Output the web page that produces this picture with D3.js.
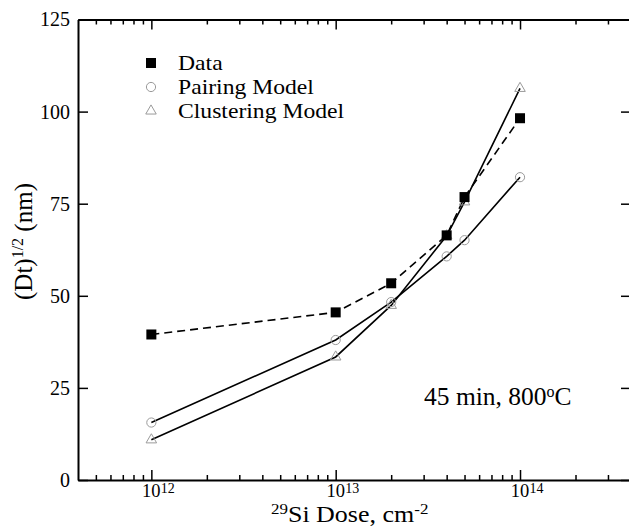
<!DOCTYPE html>
<html>
<head>
<meta charset="utf-8">
<script src="https://cdn.jsdelivr.net/npm/d3@7"></script>
<style>
  body { margin: 0; background: #fff; }
  svg { display: block; }
  text { font-family: "Liberation Serif", "DejaVu Serif", serif; fill: #000; }
</style>
</head>
<body>
<svg id="chart" width="629" height="527"></svg>
<script>
// Implant dose (cm^-2) and diffusion length (Dt)^1/2 in nm
const doses = [1e12, 1e13, 2e13, 4e13, 5e13, 1e14];
const dataValues = [39.5, 45.5, 53.4, 66.4, 76.8, 98.2];
const pairingValues = [15.6, 38.0, 48.3, 60.7, 65.1, 82.2];
const clusteringValues = [10.9, 33.4, 47.4, 66.3, 75.5, 106.3];

const yTicks = [0, 25, 50, 75, 100, 125];
const xMajorTicks = [1e12, 1e13, 1e14];
const xMajorExponents = ["12", "13", "14"];
const xMinorTicks = [5e11, 6e11, 7e11, 8e11, 9e11,
  2e12, 3e12, 4e12, 5e12, 6e12, 7e12, 8e12, 9e12,
  2e13, 3e13, 4e13, 5e13, 6e13, 7e13, 8e13, 9e13,
  2e14, 3e14];
const legendNames = ["Data", "Pairing Model", "Clustering Model"];

const serif = "'Liberation Serif', 'DejaVu Serif', serif";
const svg = d3.select("#chart").attr("font-family", serif);
const plotLeft = 78, plotRight = 631, plotTop = 19.5, plotBottom = 480;

const x = d3.scaleLog().domain([4e11, 4e14]).range([plotLeft, plotRight]);
const y = d3.scaleLinear().domain([0, 125]).range([plotBottom, plotTop]);

const gray = "#9a9a9a";

// ---- axes (ticks point into the plot on all four sides) ----
function styleAxis(g) {
  g.attr("font-family", serif);
  g.select(".domain").attr("stroke", "#000").attr("stroke-width", 2);
  g.selectAll(".tick line").attr("stroke", "#000").attr("stroke-width", 1.5);
}

svg.append("g").attr("transform", `translate(0,${plotBottom})`)
  .call(d3.axisBottom(x).tickValues(xMajorTicks).tickSize(-10).tickSizeOuter(0).tickFormat(""))
  .call(styleAxis);
svg.append("g").attr("transform", `translate(0,${plotBottom})`)
  .call(d3.axisBottom(x).tickValues(xMinorTicks).tickSize(-5).tickSizeOuter(0).tickFormat(""))
  .call(g => g.select(".domain").remove())
  .call(styleAxis);

svg.append("g").attr("transform", `translate(0,${plotTop})`)
  .call(d3.axisTop(x).tickValues(xMajorTicks).tickSize(-10).tickSizeOuter(0).tickFormat(""))
  .call(styleAxis);
svg.append("g").attr("transform", `translate(0,${plotTop})`)
  .call(d3.axisTop(x).tickValues(xMinorTicks).tickSize(-5).tickSizeOuter(0).tickFormat(""))
  .call(g => g.select(".domain").remove())
  .call(styleAxis);

const yAxisG = svg.append("g").attr("transform", `translate(${plotLeft},0)`)
  .call(d3.axisLeft(y).tickValues(yTicks).tickSize(-10).tickSizeOuter(0).tickPadding(8))
  .call(styleAxis);
yAxisG.selectAll(".tick text")
  .attr("fill", "#000")
  .style("font-size", "20px");

svg.append("g").attr("transform", `translate(${plotRight},0)`)
  .call(d3.axisRight(y).tickValues(yTicks).tickSize(-10).tickSizeOuter(0).tickFormat(""))
  .call(styleAxis);

// power-of-ten labels on the dose axis
const xLab = svg.append("g").selectAll("g").data(xMajorTicks).join("g");
xLab.append("text")
  .attr("x", d => x(d)).attr("y", 496.5)
  .attr("text-anchor", "middle")
  .style("font-size", "18.5px")
  .text("10");
xLab.append("text")
  .attr("x", d => x(d) + 9.5).attr("y", 493)
  .attr("text-anchor", "start")
  .style("font-size", "14px")
  .text((d, i) => xMajorExponents[i]);

// ---- axis titles ----
const xTitle = svg.append("text")
  .attr("transform", "translate(271,521.5) scale(1.13,1)")
  .style("font-size", "23px");
xTitle.append("tspan").attr("dy", -8).style("font-size", "15px").text("29");
xTitle.append("tspan").attr("dy", 8).text("Si Dose, cm");
xTitle.append("tspan").attr("dy", -8).style("font-size", "15px").text("-2");

const yTitle = svg.append("text")
  .attr("transform", "translate(32,300) rotate(-90)")
  .attr("x", 0).attr("y", 0)
  .style("font-size", "25px");
yTitle.append("tspan").text("(Dt)");
yTitle.append("tspan").attr("dy", -9).style("font-size", "16px").text("1/2");
yTitle.append("tspan").attr("dy", 9).text(" (nm)");

// ---- series ----
const seriesPoints = vals => doses.map((d, i) => ({ dose: d, v: vals[i] }));
const line = d3.line().x(p => x(p.dose)).y(p => y(p.v));

const plot = svg.append("g");
plot.append("path").datum(seriesPoints(pairingValues))
  .attr("d", line).attr("fill", "none").attr("stroke", "#000").attr("stroke-width", 1.6);
plot.append("path").datum(seriesPoints(clusteringValues))
  .attr("d", line).attr("fill", "none").attr("stroke", "#000").attr("stroke-width", 1.6);
plot.append("path").datum(seriesPoints(dataValues))
  .attr("d", line).attr("fill", "none").attr("stroke", "#000").attr("stroke-width", 1.6)
  .attr("stroke-dasharray", "8,5");

const tri = d3.symbol().type(d3.symbolTriangle).size(48);

plot.selectAll("circle.pair").data(seriesPoints(pairingValues)).join("circle")
  .attr("class", "pair")
  .attr("cx", p => x(p.dose)).attr("cy", p => y(p.v)).attr("r", 4.6)
  .attr("fill", "none").attr("stroke", gray).attr("stroke-width", 1);
plot.selectAll("path.clus").data(seriesPoints(clusteringValues)).join("path")
  .attr("class", "clus")
  .attr("d", tri)
  .attr("transform", p => `translate(${x(p.dose)},${y(p.v)})`)
  .attr("fill", "none").attr("stroke", gray).attr("stroke-width", 1);
plot.selectAll("rect.data").data(seriesPoints(dataValues)).join("rect")
  .attr("class", "data")
  .attr("x", p => x(p.dose) - 5).attr("y", p => y(p.v) - 5)
  .attr("width", 10).attr("height", 10).attr("fill", "#000");

// ---- legend ----
const legendRows = [63, 87, 111];
const lg = svg.append("g");
lg.append("rect").attr("x", 151 - 5).attr("y", legendRows[0] - 5)
  .attr("width", 10).attr("height", 10).attr("fill", "#000");
lg.append("circle").attr("cx", 151).attr("cy", legendRows[1]).attr("r", 4.6)
  .attr("fill", "none").attr("stroke", gray).attr("stroke-width", 1);
lg.append("path").attr("d", tri).attr("transform", `translate(151,${legendRows[2]})`)
  .attr("fill", "none").attr("stroke", gray).attr("stroke-width", 1);
lg.selectAll("text").data(legendNames).join("text")
  .attr("transform", (d, i) => `translate(178,${legendRows[i] + 7}) scale(1.1,1)`)
  .style("font-size", "21.5px")
  .text(d => d);

// ---- annealing condition note ----
const note = svg.append("text").attr("x", 424).attr("y", 405).style("font-size", "25.5px");
note.append("tspan").text("45 min, 800");
note.append("tspan").attr("dy", -8).style("font-size", "16px").text("o");
note.append("tspan").attr("dy", 8).text("C");
</script>
</body>
</html>
